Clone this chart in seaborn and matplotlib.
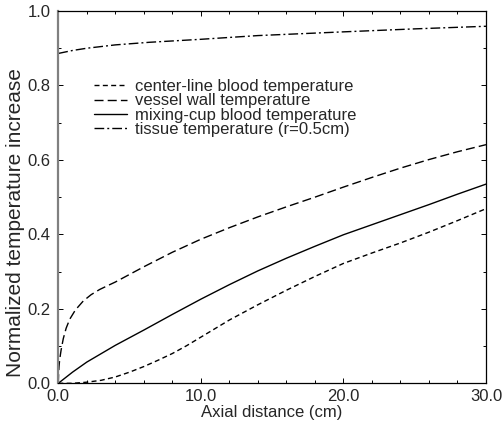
import numpy as np
import pandas as pd
import matplotlib
matplotlib.use("Agg")
import matplotlib.pyplot as plt
from matplotlib.ticker import MultipleLocator, FormatStrFormatter
import seaborn as sns

# values
center_x = [0, 1, 2, 3, 4, 5, 6, 7, 8, 9, 10, 12, 14, 16, 18, 20, 22, 24, 26, 28, 30]
center_y = [0.0, 0.0, 0.003, 0.008, 0.017, 0.03, 0.045, 0.062, 0.08, 0.101, 0.124,
            0.17, 0.211, 0.25, 0.287, 0.322, 0.35, 0.377, 0.406, 0.437, 0.469]

wall_x = [0, 0.02, 0.05, 0.1, 0.2, 0.35, 0.55, 0.8, 1.2, 1.75, 2.3, 2.9, 3.5, 4,
          6, 8, 10, 12, 14, 16, 18, 20, 22, 24, 26, 28, 30]
wall_y = [0.0, 0.025, 0.045, 0.065, 0.09, 0.12, 0.148, 0.172, 0.197, 0.221, 0.238,
          0.252, 0.263, 0.272, 0.313, 0.352, 0.387, 0.418, 0.447, 0.474, 0.5,
          0.527, 0.553, 0.578, 0.601, 0.622, 0.641]

mix_x = [0, 1, 2, 4, 6, 8, 10, 12, 14, 16, 18, 20, 22, 24, 26, 28, 30]
mix_y = [0.0, 0.03, 0.057, 0.102, 0.143, 0.185, 0.226, 0.265, 0.302, 0.336,
         0.368, 0.399, 0.426, 0.453, 0.48, 0.508, 0.535]

tissue_x = [0, 1, 2, 4, 6.4, 10, 14, 20, 25, 30]
tissue_y = [0.886, 0.894, 0.9, 0.909, 0.916, 0.924, 0.934, 0.944, 0.952, 0.959]

labels = ["center-line blood temperature", "vessel wall temperature",
          "mixing-cup blood temperature", "tissue temperature (r=0.5cm)"]

frames = []
for lab, xs, ys in zip(labels, [center_x, wall_x, mix_x, tissue_x],
                       [center_y, wall_y, mix_y, tissue_y]):
    frames.append(pd.DataFrame({"x": xs, "y": ys, "series": lab}))
df = pd.concat(frames, ignore_index=True)

sns.set_style("ticks")
plt.rcParams['font.family'] = ['Liberation Sans', 'DejaVu Sans']

fig = plt.figure(figsize=(5.03, 4.30), dpi=100)
ax = fig.add_axes([0.1159, 0.1086, 0.8503, 0.8658])

dashes = {labels[0]: (3.6, 2.4), labels[1]: (6.5, 3.0), labels[2]: "",
          labels[3]: (7.0, 2.2, 1.4, 2.2)}
sns.lineplot(data=df, x="x", y="y", style="series", style_order=labels,
             dashes=dashes, color="k", linewidth=1.0, estimator=None,
             ax=ax)

ax.set_xlim(0, 30)
ax.set_ylim(0, 1.0)
ax.xaxis.set_major_locator(MultipleLocator(10))
ax.xaxis.set_minor_locator(MultipleLocator(2))
ax.yaxis.set_major_locator(MultipleLocator(0.2))
ax.yaxis.set_minor_locator(MultipleLocator(0.1))
ax.xaxis.set_major_formatter(FormatStrFormatter("%.1f"))
ax.yaxis.set_major_formatter(FormatStrFormatter("%.1f"))

ax.tick_params(which="both", direction="in", top=True, right=True,
               labelsize=12, width=0.7, color="k")
ax.tick_params(axis="x", which="both", pad=4)
ax.tick_params(axis="y", which="both", pad=5.5)
ax.tick_params(which="major", length=3.6)
ax.tick_params(which="minor", length=2.2)
for s in ["top", "right", "bottom"]:
    ax.spines[s].set_linewidth(0.9)
    ax.spines[s].set_color("k")
ax.spines["left"].set_linewidth(1.6)
ax.spines["left"].set_color("#808080")

ax.set_xlabel("Axial distance (cm)", fontsize=12, labelpad=1)
ax.set_ylabel("Normalized temperature increase", fontsize=15, labelpad=0)
ax.yaxis.set_label_coords(-0.078, 0.433)

h, l = ax.get_legend_handles_labels()
ax.legend(h, l, loc="upper left", bbox_to_anchor=(0.083, 0.817), frameon=False,
          fontsize=12, handlelength=2.0, handletextpad=0.5, labelspacing=-0.04,
          borderpad=0, borderaxespad=0)

fig.savefig("out.png", dpi=100)
